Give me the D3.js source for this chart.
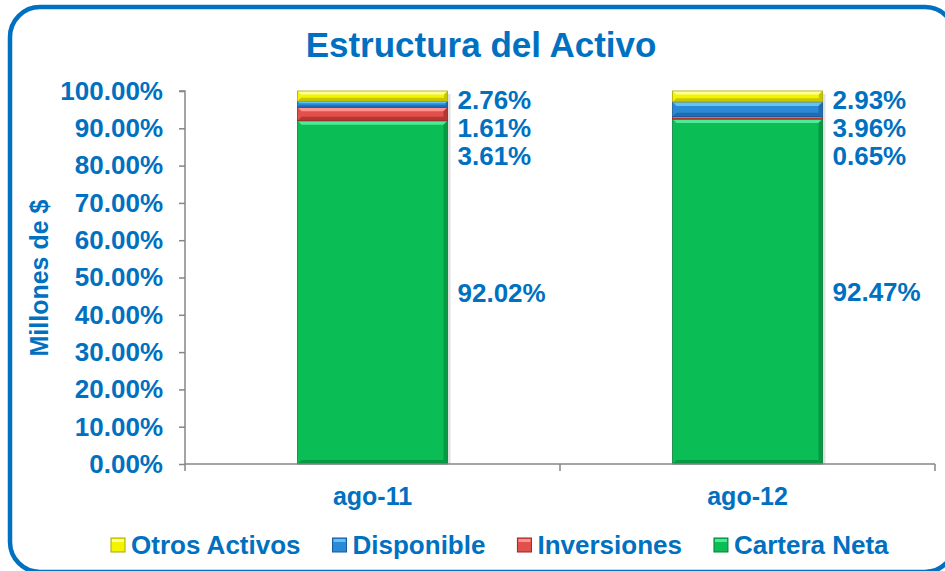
<!DOCTYPE html>
<html>
<head>
<meta charset="utf-8">
<script src="https://cdn.jsdelivr.net/npm/d3@7"></script>
<style>
  body { margin: 0; background: #fff; }
  text { font-family: Arial, "Liberation Sans", sans-serif; font-weight: bold; fill: #0070C0; }
</style>
</head>
<body>
<script>
// datos del grafico
const categories = ["ago-11", "ago-12"];
const carteraNeta = [92.02, 92.47];
const inversiones = [3.61, 0.65];
const disponible = [1.61, 3.96];
const otrosActivos = [2.76, 2.93];
const seriesNames = ["Cartera Neta", "Inversiones", "Disponible", "Otros Activos"];
const yTicks = [0, 10, 20, 30, 40, 50, 60, 70, 80, 90, 100];

// colores: base, claro (bisel arriba), oscuro (borde)
const colors = {
    "Cartera Neta": ["#0BBD55", "#4EEA95", "#07813A"],
    "Inversiones": ["#E2504C", "#FF928E", "#952724"],
    "Disponible": ["#2A8AD6", "#63C2F8", "#17589A"],
    "Otros Activos": ["#F4F400", "#FFFF9A", "#A9A900"]
};

const W = 945, H = 571;
const svg = d3.select("body").append("svg").attr("width", W).attr("height", H);

// marco redondeado
svg.append("rect")
    .attr("x", 10).attr("y", 7).attr("width", 945).attr("height", 565)
    .attr("rx", 30).attr("ry", 30)
    .attr("fill", "#fff").attr("stroke", "#0070C0").attr("stroke-width", 4.5);

// titulo
svg.append("text")
    .attr("x", 481).attr("y", 57)
    .attr("text-anchor", "middle")
    .style("font-size", "35px")
    .text("Estructura del Activo");

const x = d3.scaleBand().domain(categories).range([185, 935]).paddingInner(0.6).paddingOuter(0.3);
const y = d3.scaleLinear().domain([0, 100]).range([464, 91]);

// tabla para el stack
const rows = categories.map(function(c, i) {
    return {
        cat: c,
        "Cartera Neta": carteraNeta[i],
        "Inversiones": inversiones[i],
        "Disponible": disponible[i],
        "Otros Activos": otrosActivos[i]
    };
});
const stacked = d3.stack().keys(seriesNames)(rows);

// sombra de las barras
svg.append("g").selectAll("rect")
    .data(categories).enter()
    .append("rect")
    .attr("x", d => x(d) + 3)
    .attr("y", y(100) + 3)
    .attr("width", x.bandwidth())
    .attr("height", y(0) - y(100) - 3)
    .attr("fill", "#000").attr("opacity", 0.12);

// barras apiladas con efecto bisel
const layer = svg.append("g").selectAll("g")
    .data(stacked).enter()
    .append("g");

layer.each(function(s) {
    const c = colors[s.key];
    const g = d3.select(this);
    s.forEach(function(d) {
        const x0 = x(d.data.cat);
        const bw = x.bandwidth();
        const yt = y(d[1]);
        const h = y(d[0]) - y(d[1]);
        const b = Math.min(4, h / 3);
        g.append("rect").attr("x", x0).attr("y", yt).attr("width", bw).attr("height", h).attr("fill", c[0]);
        // bisel arriba
        g.append("polygon")
            .attr("points", [[x0, yt], [x0 + bw, yt], [x0 + bw - b, yt + b], [x0 + b, yt + b]].join(" "))
            .attr("fill", c[1]);
        // bisel abajo
        g.append("polygon")
            .attr("points", [[x0, yt + h], [x0 + bw, yt + h], [x0 + bw - b, yt + h - b], [x0 + b, yt + h - b]].join(" "))
            .attr("fill", c[2]).attr("opacity", 0.6);
        // bisel derecho
        g.append("polygon")
            .attr("points", [[x0 + bw, yt], [x0 + bw, yt + h], [x0 + bw - b, yt + h - b], [x0 + bw - b, yt + b]].join(" "))
            .attr("fill", c[2]).attr("opacity", 0.6);
        g.append("rect").attr("x", x0).attr("y", yt).attr("width", bw).attr("height", h)
            .attr("fill", "none").attr("stroke", c[2]).attr("stroke-width", 0.8);
    });
});

// eje y
const yAxis = svg.append("g")
    .attr("transform", "translate(185,0)")
    .call(d3.axisLeft(y).tickValues(yTicks).tickSize(6).tickPadding(16)
        .tickFormat(d => d.toFixed(2) + "%"));
yAxis.selectAll("path, line").attr("stroke", "#868686").attr("stroke-width", 1.5);
yAxis.select(".domain").attr("d", "M-6," + y(100) + "H0V" + y(0));
yAxis.selectAll("text").style("font-size", "26px").attr("fill", "#0070C0");
yAxis.attr("font-family", null).attr("font-size", null);

// eje x: linea, marcas entre categorias y etiquetas
const xg = svg.append("g");
xg.append("line")
    .attr("x1", x.range()[0]).attr("x2", x.range()[1])
    .attr("y1", y(0)).attr("y2", y(0))
    .attr("stroke", "#868686").attr("stroke-width", 1.5);
const bounds = d3.range(categories.length + 1).map(i => x.range()[0] + i * x.step());
xg.selectAll(".tk").data(bounds).enter()
    .append("line").attr("class", "tk")
    .attr("x1", d => d).attr("x2", d => d)
    .attr("y1", y(0)).attr("y2", y(0) + 7)
    .attr("stroke", "#868686").attr("stroke-width", 1.5);
xg.selectAll(".lbl").data(categories).enter()
    .append("text").attr("class", "lbl")
    .attr("x", d => x(d) + x.bandwidth() / 2)
    .attr("y", 505)
    .attr("text-anchor", "middle")
    .style("font-size", "25px")
    .text(d => d);

// titulo eje y
svg.append("text")
    .attr("transform", "translate(48,278) rotate(-90)")
    .attr("text-anchor", "middle")
    .style("font-size", "25px")
    .text("Millones de $");

// etiquetas de datos, a la derecha de cada barra
categories.forEach(function(c, i) {
    const lx = x(c) + x.bandwidth() + 10;
    // series chicas de arriba hacia abajo, separadas
    const small = stacked.slice(1).reverse();
    let prev = null;
    small.forEach(function(s) {
        const d = s[i];
        let cy = (y(d[0]) + y(d[1])) / 2 + 3;
        if (prev !== null && cy < prev + 28) cy = prev + 28;
        prev = cy;
        svg.append("text")
            .attr("x", lx).attr("y", cy).attr("dy", "0.36em")
            .style("font-size", "26px")
            .text((d[1] - d[0]).toFixed(2) + "%");
    });
    const d = stacked[0][i];
    svg.append("text")
        .attr("x", lx).attr("y", (y(d[0]) + y(d[1])) / 2).attr("dy", "0.36em")
        .style("font-size", "26px")
        .text((d[1] - d[0]).toFixed(2) + "%");
});

// leyenda
const legendOrder = seriesNames.slice().reverse();
let lxPos = 111;
legendOrder.forEach(function(name) {
    const c = colors[name];
    const g = svg.append("g");
    g.append("rect").attr("x", lxPos).attr("y", 538).attr("width", 14).attr("height", 14)
        .attr("fill", c[0]).attr("stroke", c[2]).attr("stroke-width", 1);
    g.append("rect").attr("x", lxPos + 1).attr("y", 539).attr("width", 12).attr("height", 3)
        .attr("fill", c[1]);
    const t = g.append("text")
        .attr("x", lxPos + 20).attr("y", 554)
        .style("font-size", "26px")
        .text(name);
    lxPos = lxPos + 20 + t.node().getComputedTextLength() + 32;
});
</script>
</body>
</html>
